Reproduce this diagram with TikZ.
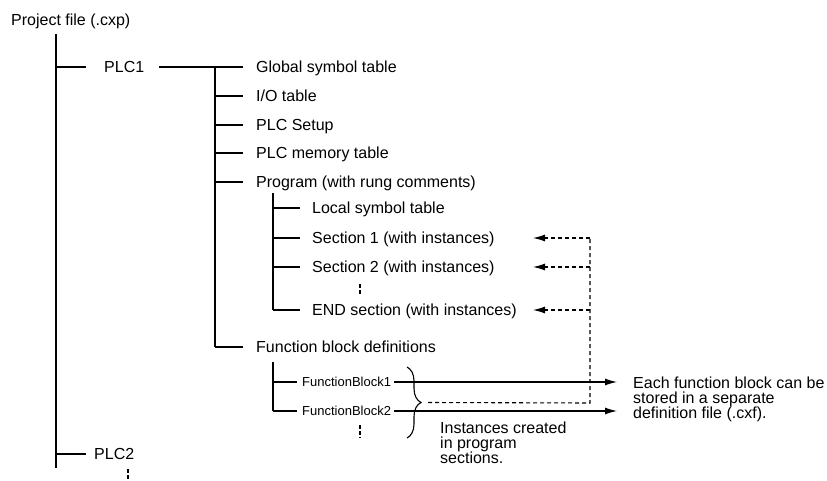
\documentclass[tikz,border=0pt]{standalone}
\usepackage{fontspec}
\setmainfont{Liberation Sans}
\usetikzlibrary{calc,positioning,arrows.meta,decorations.pathreplacing}
\newcommand{\treefont}{\fontsize{16}{15}\selectfont}
\newcommand{\blockfont}{\fontsize{13}{15}\selectfont}
\tikzset{
  item/.style={anchor=west, inner sep=0pt, text height=11.4pt, text depth=0pt, font=\treefont},
  block/.style={item, text height=9.3pt, font=\blockfont},
  note/.style={anchor=north west, inner sep=0pt, align=left, font=\treefont},
  branch/.style={line width=1.1pt},
  more/.style={line width=1.1pt, dash pattern=on 4pt off 2pt},
  fbline/.style={line width=1.1pt, dash pattern=on 4pt off 3pt},
  arr/.style={-{Latex[length=12pt,width=7pt]}},
  curly/.style={line width=1.1pt, decorate, decoration={brace, amplitude=14pt}},
}

\begin{document}
\begin{tikzpicture}[x=1pt, y=-1pt]
  \useasboundingbox (0,0) rectangle (827,481);

  % project file and the PLCs
  \node[item] (proj) at (11,20) {Project file (.cxp)};
  \coordinate (trunk) at (56,34);
  \coordinate (trunkend) at (56,468);
  \draw[branch] (trunk) -- (trunkend);
  \node[item] (plc1) at (104,67) {PLC1};
  \node[item] (plc2) at (94,454) {PLC2};
  \draw[branch] (trunk |- plc1) -- ([xshift=-18pt]plc1.west);
  \draw[branch] (trunk |- plc2) -- ([xshift=-8pt]plc2.west);
  \coordinate (plc2more) at (128,469);
  \draw[more] (plc2more) -- ++(0,12);

  % contents of PLC1
  \coordinate (plc) at (215,67);
  \draw[branch] ([xshift=15pt]plc1.east) -- (plc);
  \foreach \y/\nm/\txt in {67/glob/Global symbol table, 96/io/{I/O table},
      125/setup/PLC Setup, 153/mem/PLC memory table,
      182/prog/Program (with rung comments), 347/fbd/Function block definitions} {
    \node[item] (\nm) at (256,\y) {\txt};
    \draw[branch] (plc |- \nm) -- ([xshift=-13pt]\nm.west);
  }
  \draw[branch] (plc) -- (plc |- fbd);

  % program sections
  \coordinate (sect) at (273,193);
  \foreach \y/\nm/\txt in {208/loc/Local symbol table, 238/sec1/Section 1 (with instances),
      267/sec2/Section 2 (with instances), 310/endsec/END section (with instances)} {
    \node[item] (\nm) at (312,\y) {\txt};
    \draw[branch] (sect |- \nm) -- ([xshift=-12pt]\nm.west);
  }
  \draw[branch] (sect) -- (sect |- endsec);
  \coordinate (secmore) at (360,284);
  \draw[more] (secmore) -- ++(0,10);

  % function blocks
  \coordinate (fbs) at (273,362);
  \foreach \y/\nm/\txt in {382/fb1/FunctionBlock1, 411/fb2/FunctionBlock2} {
    \node[block] (\nm) at (302,\y) {\txt};
    \draw[branch] (fbs |- \nm) -- ([xshift=-5pt]\nm.west);
  }
  \draw[branch] (fbs) -- (fbs |- fb2);
  \coordinate (fbmore) at (360,425);
  \draw[more] (fbmore) -- ++(0,13);

  % brace and notes
  \coordinate (bt) at (407,367);
  \coordinate (bb) at (407,438);
  \draw[curly] (bt) -- (bb);
  \coordinate (btip) at ($(bt)!.5!(bb)+(14,0)$);
  \node[note] (file) at (633,377) {Each function block can be\\stored in a separate\\definition file (.cxf).};
  \node[note] (inst) at (440,422) {Instances created\\in program\\sections.};
  \draw[branch, arr, shorten >=16pt] ([xshift=3pt]fb1.east) -- (fb1 -| file.west);
  \draw[branch, arr, shorten >=16pt] ([xshift=3pt]fb2.east) -- (fb2 -| file.west);

  % instances point back to the sections
  \coordinate (ret) at (590,403);
  \coordinate (tips) at (533,0);
  \draw[fbline] ([xshift=7pt]btip) -- (ret) -- (ret |- sec1);
  \foreach \n in {sec1,sec2,endsec}
    \draw[fbline, arr] (ret |- \n) -- (tips |- \n);
\end{tikzpicture}
\end{document}
